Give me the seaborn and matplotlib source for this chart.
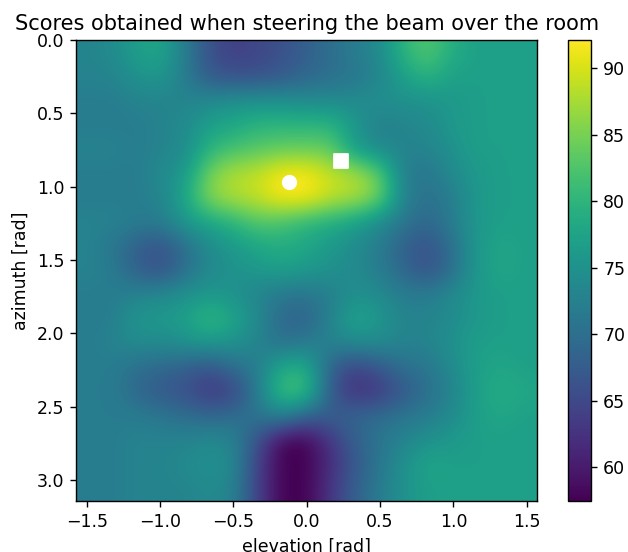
import numpy as np
import matplotlib
matplotlib.use("Agg")
import matplotlib.pyplot as plt
import seaborn as sns

# grid of scores (rows: azimuth 0..pi, columns: elevation -pi/2..pi/2)
scores = [
    [73, 74, 77, 78, 72, 66, 64, 65, 66, 68, 70, 72, 74, 80, 83, 79, 77, 77, 77],
    [73, 73, 75, 76, 72, 67, 66, 66, 67, 69, 70, 71, 73, 77, 80, 77, 77, 77, 77],
    [72, 72, 73, 73, 73, 74, 75, 75, 75, 74, 74, 74, 75, 75, 75, 76, 77, 77, 77],
    [72, 72, 72, 73, 74, 77, 78, 80, 80, 80, 80, 76, 72, 73, 74, 76, 77, 77, 77],
    [73, 73, 72, 73, 74, 80, 82, 83, 84, 84, 84, 76, 74, 73, 73, 75, 77, 77, 77],
    [72, 72, 72, 74, 76, 85, 88, 89, 92, 92, 89, 88, 84, 72, 71, 74, 76, 77, 77],
    [72, 72, 72, 73, 78, 86, 88, 89, 92.1, 92, 89, 88, 85, 73, 70, 72, 76, 77, 77],
    [73, 73, 72, 72, 76, 78, 80, 83, 82, 80, 79, 77, 74, 71, 69, 72, 76, 77, 77],
    [73, 71, 68, 66, 70, 74, 76, 78, 79, 78, 76, 74, 72, 68, 66, 70, 76, 78, 77],
    [73, 72, 68, 66, 70, 74, 75, 76, 77, 76, 75, 74, 72, 69, 66, 70, 76, 78, 77],
    [72, 72, 73, 74, 75, 76, 75, 73, 71, 71, 72, 75, 74, 72, 72, 74, 76, 77, 77],
    [72, 72, 76, 76, 77, 81, 78, 74, 69, 68, 73, 78, 76, 73, 73, 74, 76, 77, 77],
    [72, 73, 74, 74, 75, 76, 75, 73, 70, 72, 73, 74, 74, 73, 73, 75, 77, 77, 77],
    [72, 72, 70, 69, 68, 66, 70, 72, 79, 79, 68, 64, 67, 70, 71, 74, 77, 78, 77],
    [72, 72, 69, 67, 66, 63, 64, 72, 82, 82, 67, 62, 63, 67, 70, 73, 77, 79, 78],
    [72, 72, 72, 71, 70, 69, 70, 71, 73, 68, 68, 69, 70, 71, 72, 74, 77, 78, 77],
    [72, 72, 73, 73, 73, 74, 73, 66, 57.5, 57.5, 63, 68, 71, 73, 75, 76, 77, 77, 77],
    [72, 72, 73, 73, 74, 75, 74, 64, 57.5, 57.5, 62, 67, 71, 75, 78, 77, 77, 77, 77],
    [72, 72, 73, 73, 73, 74, 73, 64, 57.5, 57.5, 63, 68, 72, 75, 77, 77, 77, 77, 77],
]
best_elevation = [-0.122]
best_azimuth = [0.966]
target_elevation = [0.231]
target_azimuth = [0.825]
x_ticks = [-1.5, -1.0, -0.5, 0.0, 0.5, 1.0, 1.5]
y_ticks = [0.0, 0.5, 1.0, 1.5, 2.0, 2.5, 3.0]
cbar_ticks = [60, 65, 70, 75, 80, 85, 90]

sns.set_style("ticks")
plt.rcParams["font.family"] = ["DejaVu Sans"]
for key in ["axes.edgecolor", "xtick.color", "ytick.color", "text.color",
            "axes.labelcolor"]:
    plt.rcParams[key] = "black"

dpi = 125
fig = plt.figure(figsize=(628 / dpi, 552 / dpi), dpi=dpi)
ax = fig.add_axes([76.3 / 628, 51.3 / 552, 461 / 628, 460.7 / 552])
cax = fig.add_axes([568.3 / 628, 51.3 / 552, 22.7 / 628, 460.7 / 552])

data = np.array(scores, dtype=float)
im = ax.imshow(data, cmap="viridis", interpolation="bicubic",
               extent=[-np.pi / 2, np.pi / 2, np.pi, 0],
               vmin=data.min(), vmax=data.max(), aspect="equal")
sns.scatterplot(x=best_elevation, y=best_azimuth, ax=ax, marker="o", s=60,
                color="white", edgecolor="white", linewidth=1, zorder=5)
sns.scatterplot(x=target_elevation, y=target_azimuth, ax=ax, marker="s", s=60,
                color="white", edgecolor="white", linewidth=1, zorder=5)
ax.set_xlim(-np.pi / 2, np.pi / 2)
ax.set_ylim(np.pi, 0)
ax.set_xticks(x_ticks)
ax.set_yticks(y_ticks)
ax.set_xlabel("elevation [rad]")
ax.set_ylabel("azimuth [rad]")
ax.set_title("Scores obtained when steering the beam over the room")
for s in ax.spines.values():
    s.set_visible(True)
    s.set_linewidth(0.8)
cb = fig.colorbar(im, cax=cax)
cb.set_ticks(cbar_ticks)
cb.outline.set_linewidth(0.8)

fig.savefig("out.png", dpi=dpi)
